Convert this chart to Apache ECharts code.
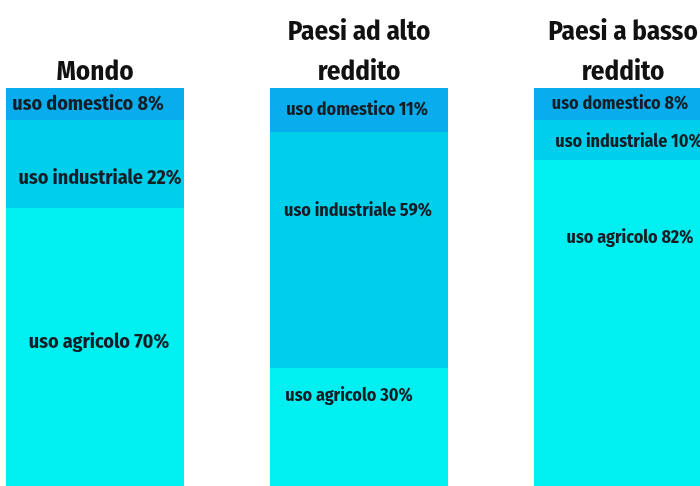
<!DOCTYPE html>
<html>
<head>
<meta charset="utf-8">
<script src="https://cdn.jsdelivr.net/npm/echarts@6/dist/echarts.min.js"></script>
<style>
  html, body { margin: 0; padding: 0; background: #fff; }
  #chart { width: 700px; height: 486px; }
</style>
</head>
<body>
<div id="chart"></div>
<script>
// regioni
const categories = ['Mondo', 'Paesi ad alto\nreddito', 'Paesi a basso\nreddito']
// quote di uso dell'acqua (%)
const domestico = [8, 11, 8]
const industriale = [22, 59, 10]
const agricolo = [70, 30, 82]

const font = '"Fira Sans Condensed", "Roboto Condensed", "DejaVu Sans Condensed", sans-serif'

// dimensione e spostamento delle etichette dentro le barre
const labelSize = [20, 18, 18]
const shiftDom = [[-7, 0], [-2, 0], [-3, 0]]
const shiftInd = [[5, 14], [-1, -39], [6, 2]]
const shiftAgr = [[4, -6], [-10, -32], [7, -86]]

function makeSeries(name, values, color, shifts) {
    return {
        name: name,
        type: 'bar',
        stack: 'uso',
        barWidth: 178,
        itemStyle: { color: color },
        label: {
            show: true,
            position: 'inside',
            color: '#141e26',
            fontFamily: font,
            fontWeight: 'bold',
            fontSize: 20,
            formatter: (p) => name + ' ' + p.value + '%'
        },
        data: values.map((v, i) => ({
            value: v,
            label: { offset: shifts[i], fontSize: labelSize[i] }
        }))
    }
}

const chart = echarts.init(document.getElementById('chart'))
chart.setOption({
    animation: false,
    grid: {
        left: -37,
        width: 792,
        top: 88,
        height: 400,
        outerBoundsMode: 'none'
    },
    xAxis: {
        type: 'category',
        position: 'top',
        data: categories,
        axisLine: { show: false },
        axisTick: { show: false },
        axisLabel: {
            interval: 0,
            margin: -4,
            color: '#111',
            fontFamily: font,
            fontWeight: 'bold',
            fontSize: 27,
            lineHeight: 40
        }
    },
    yAxis: {
        type: 'value',
        min: 0,
        max: 100,
        show: false
    },
    series: [
        makeSeries('uso agricolo', agricolo, '#00eff0', shiftAgr),
        makeSeries('uso industriale', industriale, '#00cfec', shiftInd),
        makeSeries('uso domestico', domestico, '#09adee', shiftDom)
    ]
})
</script>
</body>
</html>
